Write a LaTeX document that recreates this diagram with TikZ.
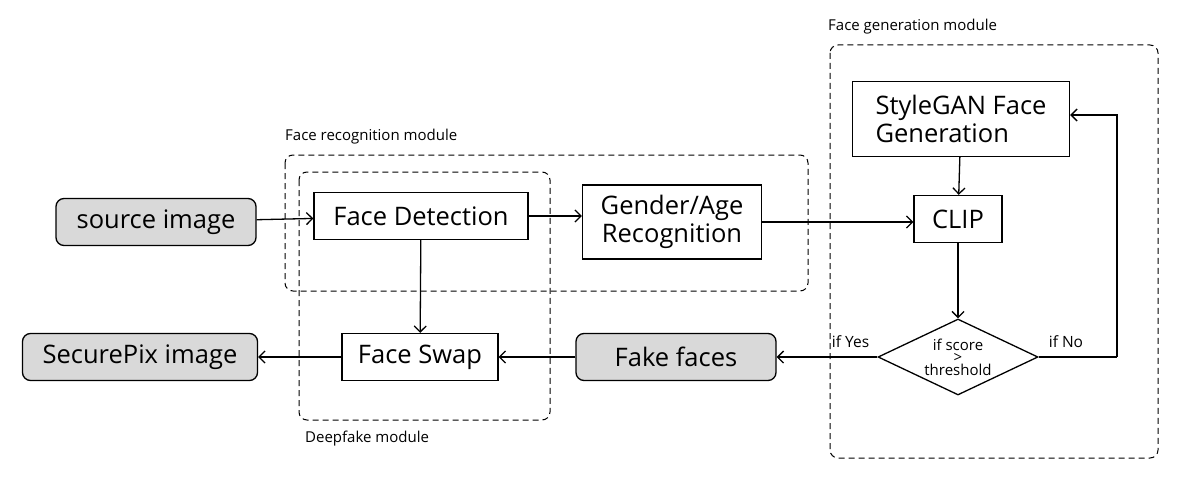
\documentclass[tikz,border=0pt]{standalone}
\usepackage{fontspec}
\setmainfont{Open Sans}
\usetikzlibrary{shapes,arrows,arrows.meta,positioning}
\tikzstyle{block} = [rectangle, draw, line width=1.3pt, font=\fontsize{25.5}{28}\selectfont,
inner sep=0pt, minimum height=47pt]
\tikzstyle{io} = [block, fill=gray!30, rounded corners=8pt]
\tikzstyle{decision} = [diamond, draw, line width=1.3pt, font=\fontsize{15}{17}\selectfont,
aspect=2.1, inner sep=0pt, minimum width=160pt, minimum height=76pt, align=center]
\tikzstyle{module} = [draw, line width=1pt, dash pattern=on 6pt off 4pt, rounded corners=8pt]
\tikzstyle{modlabel} = [font=\fontsize{15}{16}\selectfont, anchor=west, inner sep=0pt]
\tikzstyle{line} = [draw, line width=1.3pt, -{Straight Barb[length=6pt,width=12pt]}]
\tikzstyle{tag} = [font=\fontsize{15.5}{16}\selectfont, inner sep=0pt]

\begin{document}
\begin{tikzpicture}[x=1pt, y=-1pt]
\useasboundingbox (0,0) rectangle (1180,500);

% Module frames
\draw [module] (285,155) rectangle (808,291);
\draw [module] (299,172) rectangle (550,420);
\draw [module] (830,45) rectangle (1158,458);
\node [modlabel] (recmod) at (285,137) {Face recognition module};
\node [modlabel] (fakemod) at (305,439) {Deepfake module};
\node [modlabel] (genmod) at (828,27) {Face generation module};

% Place nodes
\node [io, minimum width=200pt] (source) at (156,222) {source image};
\node [block, minimum width=214pt] (detect) at (421,216) {Face Detection};
\node [block, minimum width=179pt, minimum height=74pt, align=center] (gender) at (672,222)
  {Gender/Age\\Recognition};
\node [block, minimum width=88pt] (clip) at (958,219) {CLIP};
\node [block, minimum width=217pt, minimum height=75pt, align=left] (stylegan) at (961,119)
  {StyleGAN Face\\Generation};
\node [decision] (decide) at (958,357) {if score\\[-4.5pt]>\\[-4.5pt]threshold};
\node [io, minimum width=200pt] (fake) at (676,357) {Fake faces};
\node [block, minimum width=156pt] (swap) at (420,357) {Face Swap};
\node [io, minimum width=235pt] (secure) at (140,357) {SecurePix image};
\coordinate (loop) at (1117,357);
\node [tag, anchor=south east] (yes) at ([xshift=-8pt, yshift=9pt]decide.west) {if Yes};
\node [tag, anchor=south west] (no) at ([xshift=10pt, yshift=9pt]decide.east) {if No};

% Draw edges
\path [line] (source) -- (detect);
\path [line] (detect) -- (detect.east -| gender.west);
\path [line] (gender) -- (gender.east -| clip.west);
\path [line] (stylegan) -- (clip);
\path [line] (clip) -- (decide);
\path [line] (decide) -- (fake);
\path [line] (fake) -- (swap);
\path [line] (swap) -- (secure);
\path [line] (detect) -- (swap);
\draw [line width=1.3pt] (decide) -- (loop);
\path [line] (loop) |- (stylegan.east |- 0,115);
\end{tikzpicture}
\end{document}
